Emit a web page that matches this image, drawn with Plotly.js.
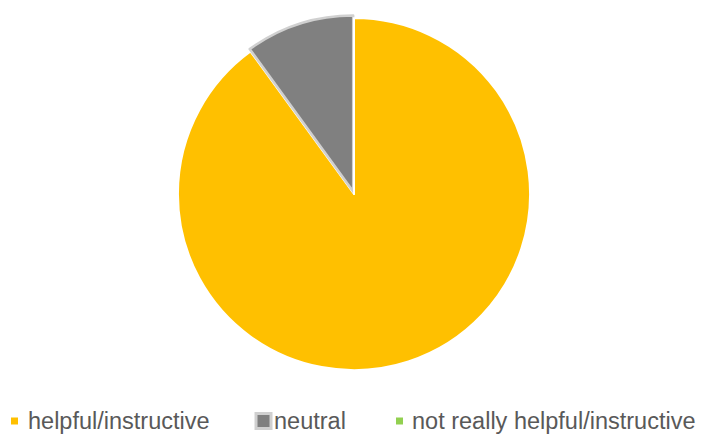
<!DOCTYPE html>
<html>
<head>
<meta charset="utf-8">
<script src="https://cdn.plot.ly/plotly-3.0.1.min.js"></script>
<style>html,body{margin:0;padding:0;background:#fff;}#chart{width:702px;height:434px;}</style>
</head>
<body>
<div id="chart"></div>
<script>
const categories = ["helpful/instructive", "neutral", "not really helpful/instructive"];
const values = [90, 10, 0];
const colors = ["#FFC000", "#808080", "#92D050"];
const lineColors = ["#FFFFFF", "#D0D0D0", "#FFFFFF"];
const pulls = [0, 0.015, 0];

const W = 702, H = 434;
const trace = {
  type: "pie",
  labels: categories,
  values: values,
  sort: false,
  direction: "clockwise",
  rotation: 0,
  pull: pulls,
  textinfo: "none",
  hoverinfo: "label+percent",
  marker: { colors: colors, line: { color: lineColors, width: [2, 2.5, 2] } },
  domain: { x: [10 / W, 698 / W], y: [61.3 / H, 418.7 / H] },
  showlegend: false
};

// manual legend built from the category arrays
const legendX = [11, 256, 396];      // marker left edges (px)
const markerSize = [7, 15, 7];
const textX = [27, 273, 411];
const legendY = 421;
const shapes = [];
const annotations = [];
categories.forEach((c, i) => {
  const s = markerSize[i];
  const x0 = legendX[i], y0 = legendY - s / 2;
  shapes.push({ type: "rect", xref: "paper", yref: "paper",
    x0: x0 / W, x1: (x0 + s) / W, y0: 1 - (y0 + s) / H, y1: 1 - y0 / H,
    fillcolor: colors[i], line: i === 1 ? { color: lineColors[i], width: 3 } : { width: 0 } });
  annotations.push({ text: c, xref: "paper", yref: "paper",
    x: textX[i] / W, y: 1 - (legendY - 0.5) / H, xanchor: "left", yanchor: "middle",
    showarrow: false, borderpad: 0,
    font: { family: "Liberation Sans, Arial, sans-serif", size: 23.5, color: "#595959" } });
});

const layout = {
  width: W, height: H,
  margin: { l: 0, r: 0, t: 0, b: 0 },
  paper_bgcolor: "#FFFFFF",
  showlegend: false,
  shapes: shapes,
  annotations: annotations
};
Plotly.newPlot("chart", [trace], layout, { displayModeBar: false, staticPlot: true });
</script>
</body>
</html>
